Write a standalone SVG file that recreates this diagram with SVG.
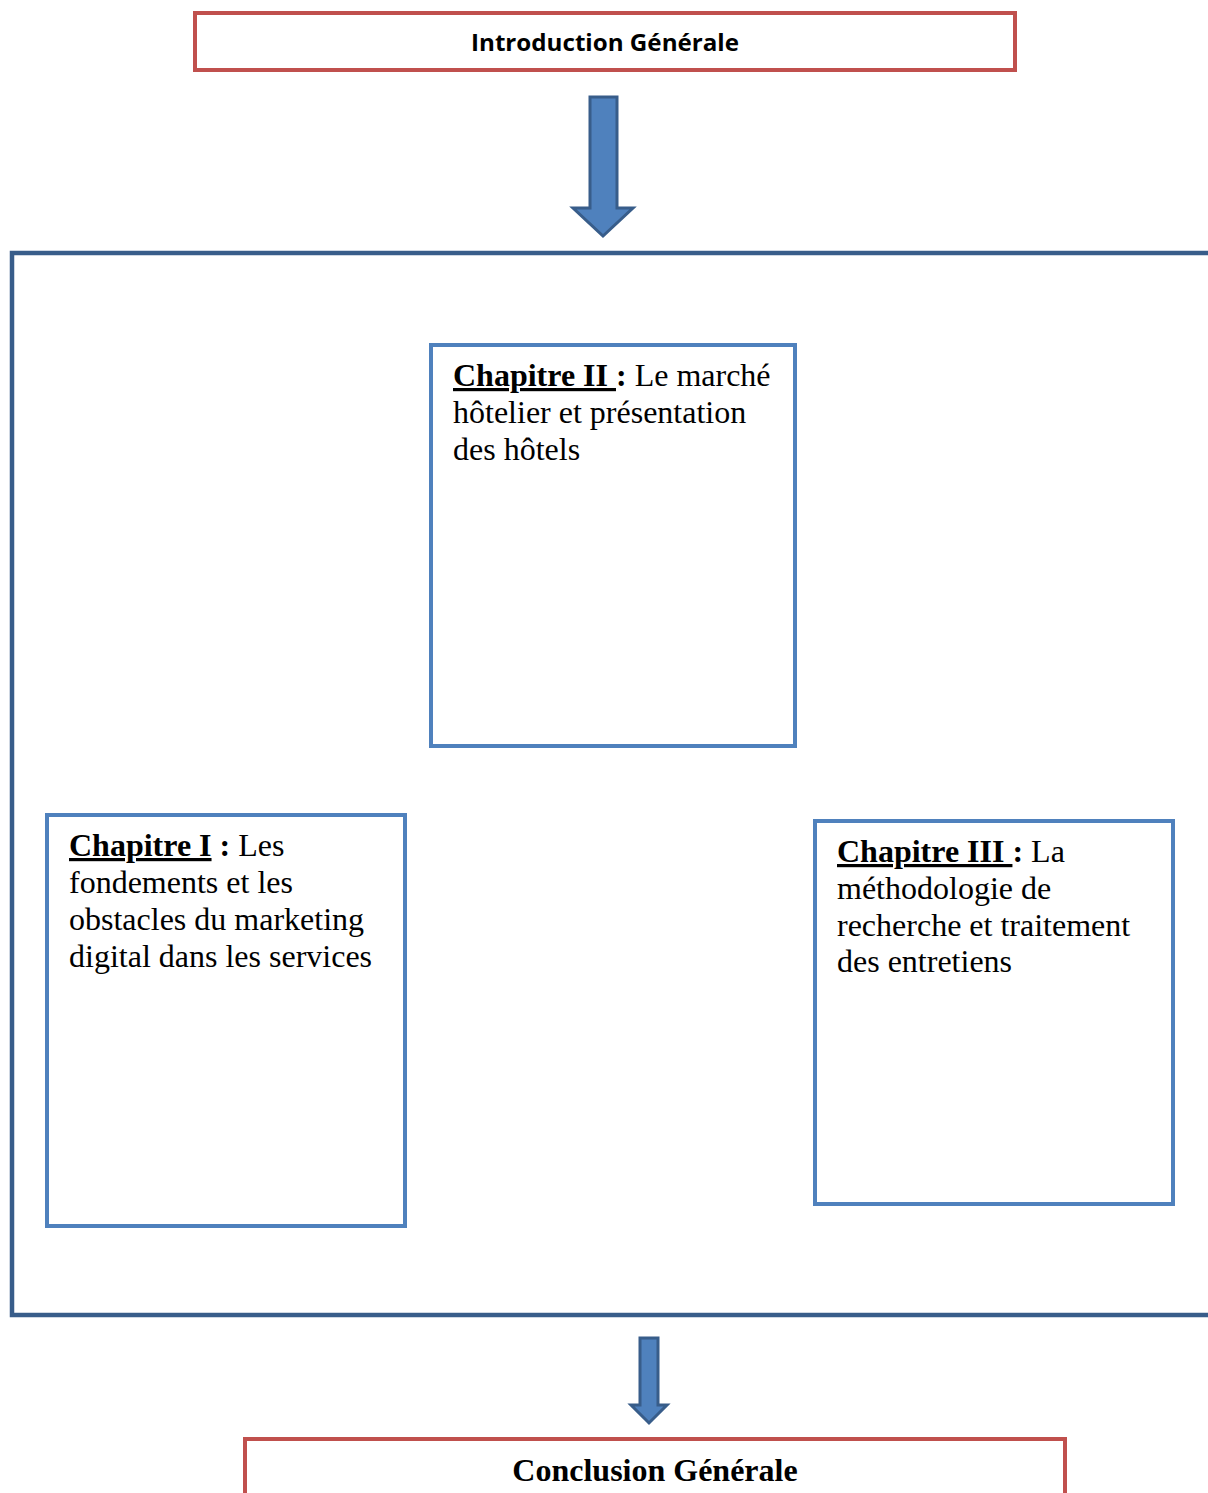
<svg xmlns="http://www.w3.org/2000/svg" width="1208" height="1493" viewBox="0 0 1208 1493">
<style>
.red{fill:#fff;stroke:#C0504D;stroke-width:4}
.blue{fill:#fff;stroke:#4F81BD;stroke-width:4}
.outer{fill:none;stroke:#385D8A;stroke-width:4.5}
.arrow{fill:#4F81BD;stroke:#385D8A;stroke-width:3;stroke-linejoin:miter}
.t{font-family:"Liberation Serif","Times New Roman",serif;font-size:32px;fill:#000}
.b{font-weight:bold}
.u{text-decoration:underline}
</style>
<rect width="1208" height="1493" fill="#fff"/>
<g id="frame">
<rect class="outer" x="12" y="253" width="1210" height="1062"/>
</g>
<g id="intro">
<rect class="red" x="195" y="13" width="820" height="57"/>
<text x="605" y="51" text-anchor="middle" font-family="'Open Sans','Liberation Sans',sans-serif" font-weight="bold" font-size="23" textLength="268" lengthAdjust="spacingAndGlyphs">Introduction Générale</text>
</g>
<g id="connectors">
<polygon class="arrow" points="590,97 617,97 617,208 633,208 603,236 573,208 590,208"/>
<polygon class="arrow" points="640,1338 658,1338 658,1405 667,1405 649,1423 631,1405 640,1405"/>
</g>
<g id="chap2">
<rect class="blue" x="431" y="345" width="364" height="401"/>
<text class="t" x="453" y="386"><tspan class="b u">Chapitre II </tspan><tspan class="b">:</tspan> Le marché</text>
<text class="t" x="453" y="423">hôtelier et présentation</text>
<text class="t" x="453" y="460">des hôtels</text>
</g>
<g id="chap1">
<rect class="blue" x="47" y="815" width="358" height="411"/>
<text class="t" x="69" y="856"><tspan class="b u">Chapitre I</tspan><tspan class="b"> :</tspan> Les</text>
<text class="t" x="69" y="893">fondements et les</text>
<text class="t" x="69" y="930">obstacles du marketing</text>
<text class="t" x="69" y="967">digital dans les services</text>
</g>
<g id="chap3">
<rect class="blue" x="815" y="821" width="358" height="383"/>
<text class="t" x="837" y="862"><tspan class="b u">Chapitre III </tspan><tspan class="b">:</tspan> La</text>
<text class="t" x="837" y="899">méthodologie de</text>
<text class="t" x="837" y="936">recherche et traitement</text>
<text class="t" x="837" y="972">des entretiens</text>
</g>
<g id="conclusion">
<rect class="red" x="245" y="1439" width="820" height="80"/>
<text class="t b" x="655" y="1481" text-anchor="middle">Conclusion Générale</text>
</g>
</svg>
